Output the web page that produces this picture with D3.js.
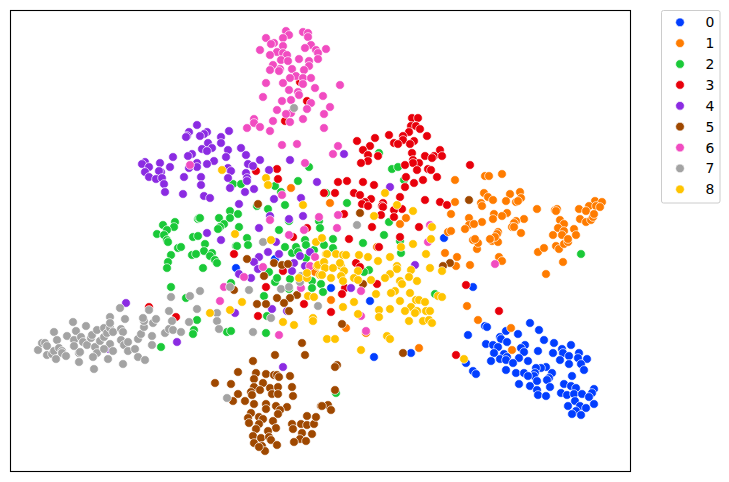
<!DOCTYPE html>
<html><head><meta charset="utf-8">
<script src="https://cdn.jsdelivr.net/npm/d3@7/dist/d3.min.js"></script>
<style>html,body{margin:0;padding:0;background:#fff}svg{display:block}</style>
</head><body><svg id="c" width="729" height="482"></svg>
<script>
const categories=["0","1","2","3","4","5","6","7","8"];
const colors=["#023eff","#ff7c00","#1ac938","#e8000b","#8b2be2","#9f4800","#f14cc1","#a3a3a3","#ffc400"];
const class0=[[530,323],[539,330],[485,326],[487,327],[506,331],[518,334],[468,335],[500,337],[501,339],[507,342],[544,340],[554,343],[571,345],[486,344],[493,345],[498,347],[525,345],[521,348],[524,352],[538,351],[562,349],[563,353],[553,353],[579,353],[569,356],[578,358],[587,359],[494,353],[504,354],[500,359],[507,357],[506,360],[491,361],[519,358],[528,361],[513,363],[560,360],[569,364],[581,364],[584,370],[506,370],[516,373],[524,373],[546,367],[541,368],[536,368],[552,373],[535,373],[534,376],[528,376],[572,376],[549,378],[547,380],[537,381],[519,384],[530,386],[550,387],[537,390],[564,384],[571,386],[576,388],[594,389],[592,393],[561,393],[567,395],[574,394],[582,394],[589,397],[538,395],[546,396],[575,401],[594,404],[568,406],[580,406],[586,408],[576,411],[572,414],[581,415],[473,287],[370,301],[374,357],[411,353],[466,363],[473,371],[476,374],[331,288],[444,238],[275,259],[236,268]];
const class1=[[511,328],[512,350],[467,306],[478,320],[419,348],[346,328],[331,300],[445,253],[457,257],[456,266],[470,265],[499,257],[502,261],[546,274],[563,262],[538,252],[544,248],[556,246],[559,249],[564,244],[568,242],[477,249],[478,243],[492,241],[498,242],[473,240],[455,180],[485,176],[489,176],[502,174],[484,193],[488,197],[493,200],[481,203],[482,206],[510,194],[520,192],[521,198],[506,201],[516,202],[518,201],[537,209],[555,210],[557,209],[556,211],[579,209],[595,201],[602,202],[589,206],[596,206],[600,207],[586,211],[455,202],[451,214],[494,214],[507,213],[502,216],[493,219],[482,222],[469,218],[469,225],[474,224],[465,229],[448,232],[451,231],[524,219],[516,221],[514,223],[512,227],[514,227],[521,233],[498,232],[497,234],[495,237],[490,239],[475,239],[553,235],[560,220],[564,224],[558,228],[564,231],[562,235],[568,239],[574,229],[576,235],[580,219],[586,222],[591,220],[593,217],[594,214],[330,203],[406,218],[400,224],[291,188],[315,272],[366,333],[377,247]];
const class2=[[233,184],[241,184],[275,186],[281,192],[298,181],[309,167],[230,211],[238,214],[285,205],[268,209],[257,206],[198,219],[199,218],[219,218],[230,218],[224,224],[220,227],[218,229],[239,227],[279,230],[175,222],[163,225],[174,227],[167,230],[157,234],[164,235],[193,237],[198,236],[247,238],[319,221],[320,228],[289,221],[305,240],[167,240],[248,245],[236,246],[205,244],[204,251],[212,253],[210,256],[215,260],[217,263],[306,245],[292,253],[296,247],[298,252],[314,250],[306,258],[324,245],[200,218],[168,242],[178,248],[181,247],[171,255],[192,255],[196,254],[168,262],[167,268],[203,268],[171,287],[186,298],[197,320],[194,330],[193,334],[161,347],[227,332],[231,331],[266,333],[267,316],[264,296],[275,282],[277,278],[231,283],[285,247],[290,279],[269,272],[289,289],[312,281],[312,288],[321,284],[323,292],[581,254],[379,153],[392,169],[398,167],[404,180],[326,193],[347,203],[389,222],[384,235],[333,239],[333,248],[363,243],[401,253],[400,241],[369,270],[364,272],[435,294],[336,393],[237,246]];
const class3=[[412,118],[418,118],[411,126],[416,126],[420,129],[409,132],[427,136],[389,135],[403,136],[403,140],[375,138],[357,141],[414,141],[410,144],[394,143],[398,144],[370,146],[363,150],[440,150],[412,153],[368,155],[378,156],[425,156],[434,156],[442,156],[432,158],[413,160],[368,161],[361,163],[419,163],[413,163],[405,165],[470,165],[428,169],[431,170],[417,170],[406,177],[437,177],[423,180],[414,183],[405,187],[338,182],[347,181],[363,182],[374,185],[324,193],[335,193],[354,193],[360,195],[400,197],[371,199],[365,202],[362,204],[368,206],[383,203],[382,206],[383,207],[425,200],[440,202],[447,205],[402,209],[394,210],[344,214],[381,215],[394,217],[372,227],[419,227],[349,239],[400,237],[379,247],[356,263],[360,267],[377,284],[345,288],[342,294],[331,312],[466,285],[499,311],[456,355],[300,82],[307,101],[285,121],[256,171],[277,169],[278,179],[234,254],[293,237],[307,228],[266,287],[258,316],[304,304],[283,271],[149,307],[176,317]];
const class4=[[197,125],[189,132],[187,136],[186,137],[207,132],[204,134],[200,136],[229,131],[221,137],[221,143],[208,143],[202,149],[212,148],[207,151],[228,150],[241,148],[173,157],[192,154],[188,156],[246,155],[226,157],[214,161],[260,160],[290,160],[145,162],[142,164],[160,163],[149,167],[170,167],[197,163],[197,167],[189,168],[207,164],[248,164],[253,166],[228,168],[231,171],[269,170],[145,172],[161,172],[159,171],[149,177],[156,179],[162,178],[184,177],[201,177],[246,173],[228,178],[247,178],[247,181],[164,184],[201,185],[230,188],[254,189],[245,192],[165,192],[183,194],[204,196],[210,198],[274,199],[301,198],[239,204],[317,182],[270,216],[289,219],[303,216],[207,233],[259,228],[221,240],[344,154],[390,187],[268,252],[279,254],[259,257],[254,262],[276,242],[310,252],[300,256],[294,263],[292,271],[305,266],[258,269],[239,274],[251,278],[272,309],[235,313],[283,367],[287,311],[126,303],[177,342],[109,349],[415,265],[351,288]];
const class5=[[258,204],[247,259],[274,263],[282,265],[288,264],[264,276],[234,290],[297,295],[290,298],[277,298],[284,303],[257,304],[266,304],[289,311],[302,343],[305,355],[275,355],[253,361],[238,372],[256,373],[266,374],[274,375],[277,375],[279,377],[290,376],[254,379],[215,383],[231,384],[263,383],[254,387],[270,388],[278,387],[292,387],[260,390],[251,392],[238,394],[252,395],[272,394],[278,394],[293,396],[233,401],[245,401],[254,404],[266,404],[266,409],[276,406],[287,407],[280,410],[278,414],[251,413],[248,418],[259,417],[263,419],[273,421],[249,423],[259,424],[256,429],[276,428],[268,431],[253,436],[261,438],[269,437],[271,440],[254,443],[262,446],[277,445],[265,451],[259,447],[292,424],[293,429],[307,416],[301,424],[307,425],[314,424],[316,417],[321,406],[302,433],[312,434],[300,439],[306,441],[294,442],[337,365],[335,367],[335,390],[328,405],[322,406],[331,410],[342,324],[403,353],[450,263],[443,266],[363,284],[360,213],[469,200]];
const class6=[[286,31],[289,35],[303,32],[308,33],[308,37],[266,38],[283,38],[274,43],[271,44],[283,46],[311,45],[305,48],[260,50],[277,52],[316,50],[270,55],[283,53],[287,55],[318,53],[318,59],[281,60],[288,61],[299,59],[309,61],[273,65],[309,66],[270,70],[292,69],[304,70],[280,69],[279,71],[296,76],[290,78],[303,78],[311,78],[266,83],[283,83],[303,84],[289,90],[298,92],[299,95],[315,88],[263,97],[282,101],[291,100],[311,103],[277,110],[307,109],[291,113],[286,114],[273,121],[303,119],[290,122],[254,119],[254,123],[247,128],[260,127],[270,131],[282,145],[297,144],[305,163],[190,165],[282,195],[270,220],[289,235],[304,230],[319,217],[326,49],[340,85],[323,96],[330,107],[324,114],[324,128],[338,146],[333,154],[338,215],[337,228],[430,225],[428,242],[495,264],[361,291],[361,316],[366,331],[263,267],[244,277],[224,287],[220,301],[301,288],[279,335],[315,257],[310,266]];
const class7=[[38,350],[42,343],[45,343],[47,346],[47,355],[52,354],[54,351],[56,359],[54,332],[57,340],[59,348],[62,351],[62,353],[66,356],[67,336],[73,322],[76,331],[74,340],[74,346],[81,337],[83,342],[87,345],[86,326],[79,353],[80,352],[79,362],[91,338],[92,335],[97,330],[104,328],[95,347],[97,353],[93,357],[94,369],[100,341],[104,337],[107,333],[110,328],[113,332],[110,317],[110,323],[110,344],[113,351],[108,359],[104,349],[123,364],[121,329],[123,332],[125,319],[120,308],[121,340],[124,345],[128,342],[128,351],[135,349],[138,357],[145,360],[138,339],[141,334],[144,327],[144,321],[143,318],[149,310],[153,323],[156,319],[152,336],[152,345],[165,333],[169,329],[173,330],[181,332],[172,321],[169,311],[171,297],[189,322],[197,309],[190,296],[200,291],[217,313],[217,321],[219,329],[230,287],[249,290],[281,289],[289,287],[271,318],[253,332],[227,398],[263,242],[301,276],[300,282],[318,306],[294,108],[357,225]];
const class8=[[222,170],[266,178],[268,185],[303,205],[235,234],[271,240],[316,242],[322,238],[326,254],[317,266],[324,262],[242,302],[230,310],[210,313],[283,322],[294,325],[313,318],[313,321],[308,296],[314,297],[299,278],[307,278],[307,273],[318,265],[320,275],[385,193],[397,205],[374,216],[413,211],[432,227],[431,239],[413,244],[401,247],[426,254],[327,254],[336,254],[343,255],[346,255],[359,255],[368,257],[390,257],[378,261],[324,262],[341,266],[340,263],[325,268],[333,268],[344,271],[358,271],[397,266],[397,269],[411,270],[430,268],[442,271],[390,274],[385,278],[409,277],[322,275],[331,278],[341,276],[354,278],[358,280],[343,281],[371,280],[417,281],[400,281],[402,284],[395,291],[391,293],[376,294],[410,293],[438,296],[442,297],[400,301],[354,302],[343,307],[416,300],[419,300],[425,302],[411,307],[390,309],[405,311],[379,310],[417,311],[415,313],[426,311],[430,311],[379,317],[358,314],[409,321],[423,321],[429,320],[432,323],[387,336],[390,339],[327,339],[335,339],[361,350],[464,359]];
const groups=[class0,class1,class2,class3,class4,class5,class6,class7,class8];

const frameLeft=10.5,frameRight=630.5,frameTop=10.5,frameBottom=471.5;
const xScale=d3.scaleLinear().domain([10.5,630.5]).range([frameLeft,frameRight]);
const yScale=d3.scaleLinear().domain([10.5,471.5]).range([frameTop,frameBottom]);
const color=d3.scaleOrdinal().domain(categories).range(colors);
const svg=d3.select("#c");
const R=4.35;

const plot=svg.append("g");
categories.forEach((c,i)=>{
  plot.append("g").attr("class","series-"+c).selectAll("circle").data(groups[i]).join("circle")
    .attr("cx",d=>xScale(d[0])).attr("cy",d=>yScale(d[1])).attr("r",R)
    .attr("fill",color(c)).attr("stroke","#fff").attr("stroke-width",0.67);
});
svg.append("rect").attr("x",frameLeft).attr("y",frameTop)
  .attr("width",frameRight-frameLeft).attr("height",frameBottom-frameTop)
  .attr("fill","none").attr("stroke","#000").attr("stroke-width",1.1);

const legend=svg.append("g");
legend.append("rect").attr("x",661.5).attr("y",10.5).attr("width",58.5).attr("height",192.5)
  .attr("rx",2).attr("fill","#fff").attr("stroke","#cccccc").attr("stroke-width",1);
const ly=d3.scalePoint().domain(categories).range([22.3,189.3]);
const item=legend.selectAll("g").data(categories).join("g");
item.append("circle").attr("cx",680).attr("cy",d=>ly(d)).attr("r",R)
  .attr("fill",d=>color(d)).attr("stroke","#fff").attr("stroke-width",0.67);
item.append("text").attr("x",705.5).attr("y",d=>ly(d)+5)
  .attr("font-family","'DejaVu Sans',sans-serif").attr("font-size",13.9).attr("fill","#000").text(d=>d);
</script></body></html>
